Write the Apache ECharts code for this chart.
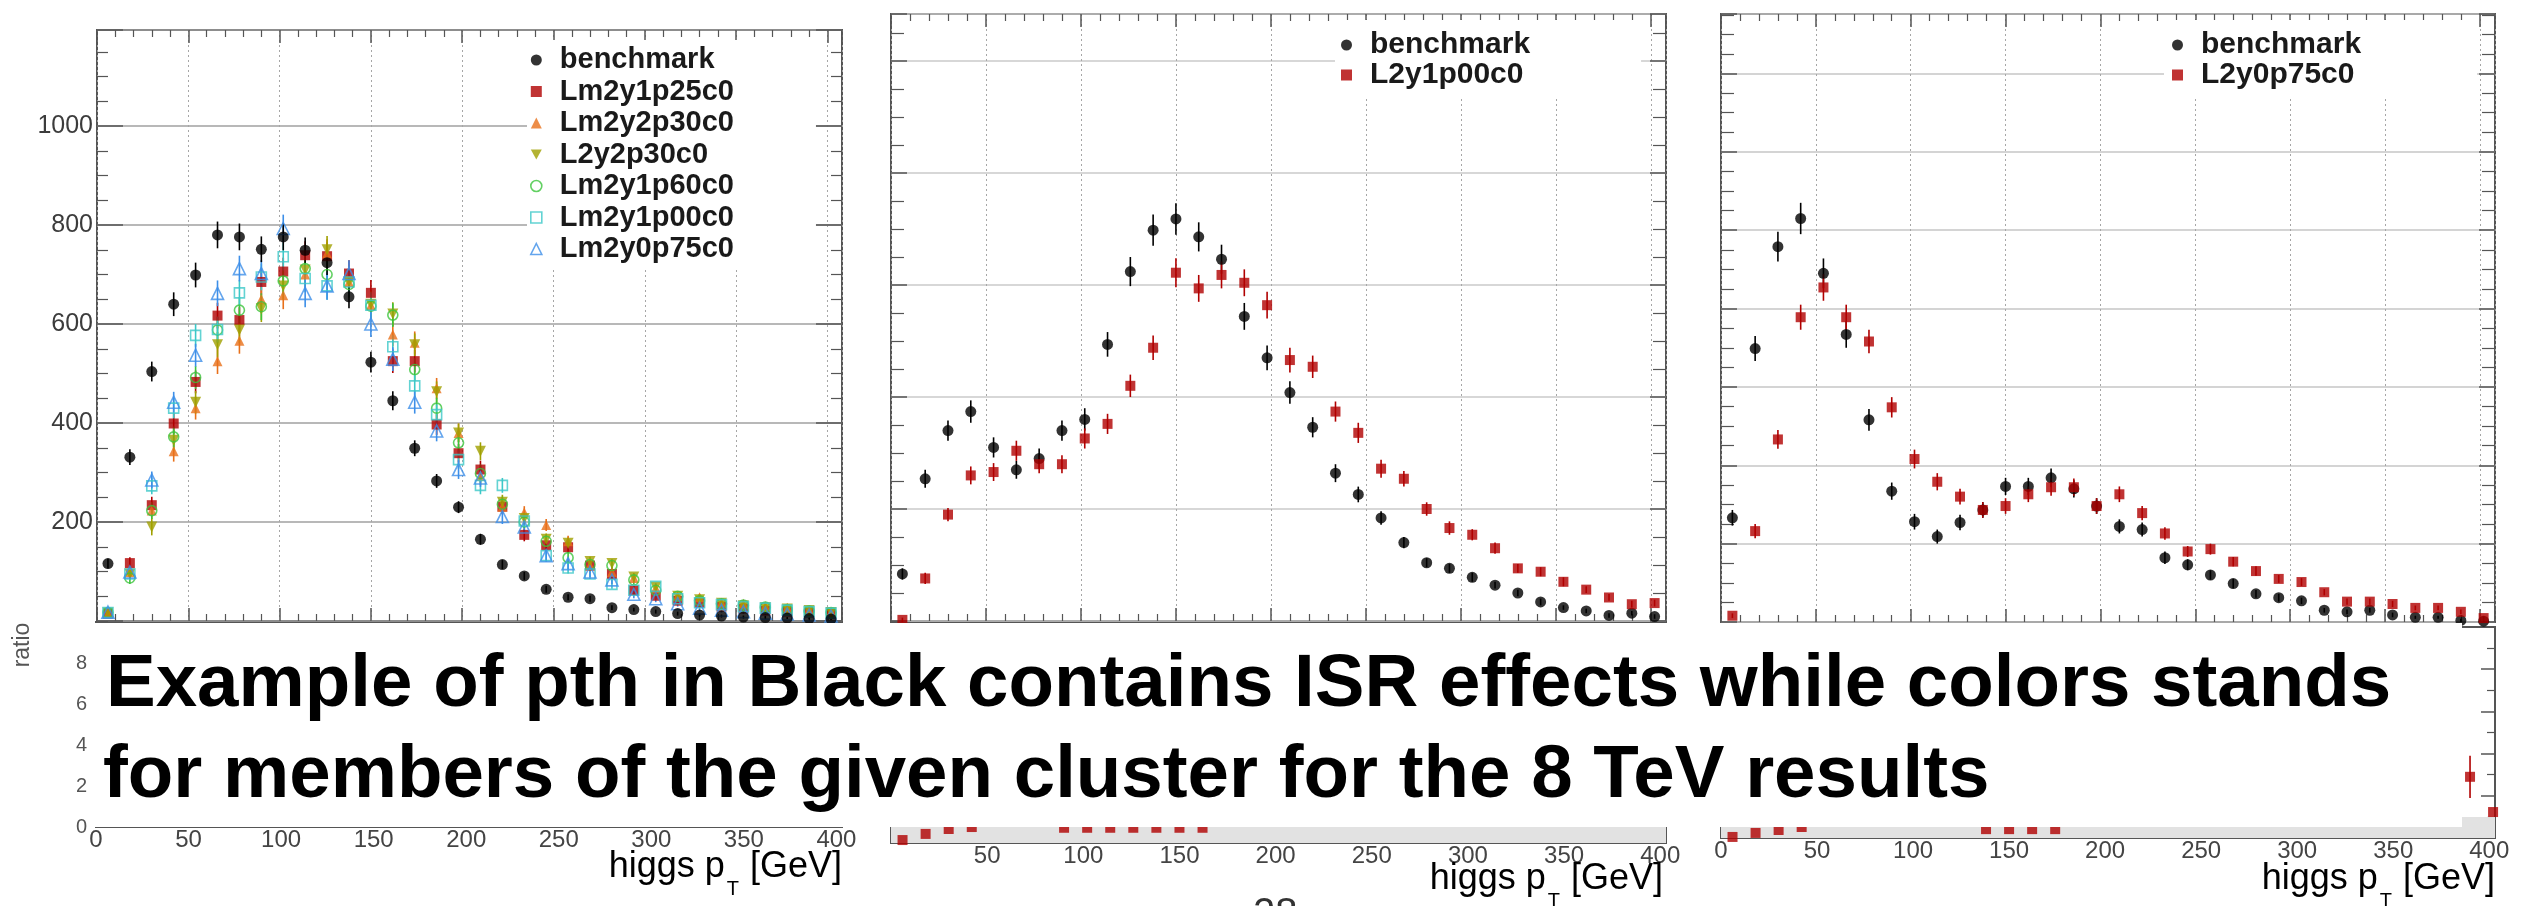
<!DOCTYPE html>
<html>
<head>
<meta charset="utf-8">
<script src="https://cdn.jsdelivr.net/npm/echarts@6/dist/echarts.min.js"></script>
<style>
html, body { margin: 0; padding: 0; background: #fff; }
#chart { width: 2531px; height: 906px; }
</style>
</head>
<body>
<div id="chart"></div>
<script>
// Higgs pT bin centres [GeV]: 34 bins of 12 GeV from 0 to 408
const ptBins = [6, 18, 30, 42, 54, 66, 78, 90, 102, 114, 126, 138, 150, 162, 174, 186, 198,
  210, 222, 234, 246, 258, 270, 282, 294, 306, 318, 330, 342, 354, 366, 378, 390, 402];

// tick labels that are printed
const yLabels1 = [200, 400, 600, 800, 1000];
const ratioLabels1 = [0, 2, 4, 6, 8];
const ptLabels = [0, 50, 100, 150, 200, 250, 300, 350, 400];

// ---- left pad: benchmark vs. members of the cluster ----
const bench1 = [116, 331, 504, 640, 699, 780, 776, 751, 776, 749, 724, 655, 523, 445, 349, 283, 230,
  165, 114, 91, 64, 48, 45, 27, 23, 19, 15, 12, 10, 8, 7, 6, 5, 4];
const bench1Err = [10, 16, 20, 24, 25, 27, 27, 26, 27, 26, 25, 23, 21, 19, 16, 14, 12,
  11, 9, 8, 7, 6, 6, 5, 4, 4, 4, 3, 3, 3, 3, 2, 2, 2];
const lm2y1p25c0 = [15, 117, 234, 399, 483, 617, 608, 685, 706, 739, 737, 702, 663, 525, 525, 397, 339,
  306, 231, 174, 153, 149, 112, 95, 62, 51, 41, 37, 29, 25, 21, 19, 17, 14];
const lm2y2p30c0 = [15, 99, 223, 343, 430, 525, 566, 650, 658, 700, 743, 685, 638, 579, 562, 470, 380,
  293, 231, 219, 194, 161, 112, 99, 87, 66, 50, 48, 37, 35, 30, 27, 22, 18];
const l2y2p30c0 = [16, 95, 190, 365, 442, 558, 588, 631, 677, 709, 750, 685, 640, 620, 558, 463, 380,
  343, 240, 207, 165, 157, 120, 116, 89, 68, 50, 43, 36, 31, 27, 24, 21, 17];
const lm2y1p60c0 = [17, 87, 223, 372, 492, 588, 628, 635, 687, 712, 700, 680, 636, 618, 508, 430, 360,
  298, 236, 200, 161, 128, 114, 112, 83, 62, 50, 41, 35, 32, 28, 23, 20, 17];
const lm2y1p00c0 = [17, 95, 273, 430, 577, 589, 663, 695, 736, 692, 677, 685, 638, 554, 475, 417, 326,
  274, 274, 202, 132, 107, 95, 74, 62, 70, 45, 37, 33, 29, 26, 22, 19, 16];
const lm2y0p75c0 = [18, 99, 285, 442, 537, 662, 712, 702, 793, 662, 677, 702, 600, 529, 442, 384, 306,
  289, 211, 190, 132, 116, 99, 83, 54, 45, 35, 26, 22, 19, 16, 14, 12, 10];
const clusterErr = [5, 12, 17, 21, 23, 26, 26, 27, 28, 28, 28, 27, 26, 24, 23, 21, 19,
  18, 15, 13, 12, 11, 10, 9, 8, 7, 6, 6, 5, 5, 5, 4, 4, 4];

// ---- middle pad: benchmark vs. L2y1p00c0 ----
const bench2 = [42, 127, 170, 187, 155, 135, 145, 170, 180, 247, 312, 349, 359, 343, 323, 272, 235,
  204, 173, 132, 113, 92, 70, 52, 47, 39, 32, 25, 17, 12, 9, 5, 7, 4];
const bench2Err = [5, 8, 9, 10, 9, 8, 9, 9, 10, 11, 13, 14, 14, 13, 13, 12, 11,
  10, 9, 8, 7, 6, 5, 4, 4, 4, 3, 3, 3, 2, 2, 2, 2, 2];
const l2y1p00c0 = [1, 38, 95, 130, 133, 152, 140, 140, 163, 176, 210, 244, 311, 297, 309, 302, 282,
  233, 227, 187, 168, 136, 127, 100, 83, 77, 65, 47, 44, 35, 28, 21, 15, 16];
const l2y1p00c0Err = [2, 5, 6, 8, 8, 9, 8, 8, 9, 9, 10, 11, 13, 12, 12, 12, 12,
  11, 10, 9, 9, 8, 7, 6, 6, 5, 5, 4, 4, 4, 3, 3, 3, 3];
const ratio2 = [0.12, 0.37, 0.57, 0.65, null, null, null, 0.62, 0.62, 0.62, 0.62, 0.62, 0.62, 0.62, null, null, null,
  null, null, null, null, null, null, null, null, null, null, null, null, null, null, null, null, null];

// ---- right pad: benchmark vs. L2y0p75c0 ----
const bench3 = [133, 349, 479, 515, 445, 367, 258, 167, 128, 109, 127, 143, 173, 173, 184, 170, 148,
  122, 118, 82, 73, 60, 49, 36, 31, 27, 15, 13, 15, 9, 6, 6, 2, 1];
const bench3Err = [10, 16, 19, 20, 19, 17, 14, 11, 10, 9, 10, 10, 11, 11, 12, 11, 10,
  9, 9, 8, 7, 6, 6, 5, 5, 4, 3, 3, 3, 3, 2, 2, 2, 1];
const l2y0p75c0 = [8, 116, 233, 389, 427, 389, 358, 274, 208, 179, 160, 143, 148, 163, 172, 172, 148,
  163, 139, 113, 90, 93, 77, 65, 55, 51, 38, 26, 26, 23, 18, 18, 13, 5];
const l2y0p75c0Err = [3, 9, 12, 16, 17, 16, 15, 13, 12, 11, 10, 10, 10, 10, 11, 11, 10,
  10, 9, 8, 7, 7, 6, 6, 5, 5, 4, 4, 4, 4, 3, 3, 3, 2];
const ratio3 = [0.05, 0.24, 0.38, 0.52, null, null, null, null, null, null, null, 0.42, 0.42, 0.42, 0.42, null, null,
  null, null, null, null, null, null, null, null, null, null, null, null, null, null, null, 2.9, 1.23];
const ratio3Err = [0, 0, 0, 0, null, null, null, null, null, null, null, 0, 0, 0, 0, null, null,
  null, null, null, null, null, null, null, null, null, null, null, null, null, null, null, 1.0, 0];

const FONT = '"Liberation Sans", Arial, Helvetica, sans-serif';
const FRAME = '#555';
const TICK = { color: FRAME, width: 1.5 };

function points(values) {
  return ptBins.map((x, i) => [x, values[i]]).filter(d => d[1] != null);
}

function errorBars(values, errs, color, xi, yi) {
  return {
    type: 'custom', xAxisIndex: xi, yAxisIndex: yi, silent: true,
    data: ptBins.map((x, i) => [x, values[i], errs[i]]).filter(d => d[1] != null && d[2]),
    encode: { x: 0, y: 1 },
    renderItem: function (params, api) {
      const x = api.value(0), y = api.value(1), e = api.value(2);
      const lo = api.coord([x, y - e]);
      const hi = api.coord([x, y + e]);
      return { type: 'line', shape: { x1: lo[0], y1: lo[1], x2: hi[0], y2: hi[1] },
        style: { stroke: color, lineWidth: 1.6 } };
    }
  };
}

function markerStyle(s) {
  return s.open
    ? { color: 'rgba(255,255,255,0)', borderColor: s.color, borderWidth: 1.6 }
    : { color: s.color };
}

function scatter(name, values, s, xi, yi) {
  return {
    type: 'scatter', name: name, xAxisIndex: xi, yAxisIndex: yi, clip: false,
    symbol: s.symbol, symbolSize: s.size, itemStyle: markerStyle(s),
    emphasis: { disabled: true }, data: points(values)
  };
}

const DOWN_TRIANGLE = 'path://M0,0L10,0L5,9Z';
const benchStyle = { symbol: 'circle', size: 11, color: '#000' };
const redStyle = { symbol: 'rect', size: 10, color: '#b00000' };
const cluster = [
  { name: 'Lm2y1p25c0', values: lm2y1p25c0, symbol: 'rect', size: 10, color: '#b00000' },
  { name: 'Lm2y2p30c0', values: lm2y2p30c0, symbol: 'triangle', size: 10, color: '#e8701a' },
  { name: 'L2y2p30c0', values: l2y2p30c0, symbol: DOWN_TRIANGLE, size: 11, color: '#a0a000' },
  { name: 'Lm2y1p60c0', values: lm2y1p60c0, symbol: 'circle', size: 10, color: '#3cc43c', open: true },
  { name: 'Lm2y1p00c0', values: lm2y1p00c0, symbol: 'rect', size: 10, color: '#3cc8c8', open: true },
  { name: 'Lm2y0p75c0', values: lm2y0p75c0, symbol: 'triangle', size: 12, color: '#3d8fe8', open: true }
];

// axes ---------------------------------------------------------------
function ptAxis(gi, max, pos, extra) {
  return Object.assign({
    type: 'value', gridIndex: gi, min: 0, max: max, interval: 50, position: pos,
    axisLine: { show: false, onZero: false },
    axisTick: { show: true, inside: true, length: 13, lineStyle: TICK },
    minorTick: { show: true, splitNumber: 5, length: 7, lineStyle: { color: FRAME, width: 1.2 } },
    axisLabel: { show: false },
    splitLine: { show: false }
  }, extra || {});
}
const dotted = { show: true, lineStyle: { color: '#a6a6a6', width: 1, type: [2, 3] } };

function ratioPtAxis(gi, labels) {
  return ptAxis(gi, 403, 'bottom', {
    axisTick: { show: true, inside: true, length: 10, lineStyle: TICK },
    minorTick: { show: true, splitNumber: 5, length: 5, lineStyle: { color: FRAME, width: 1.2 } },
    axisLabel: { show: true, margin: 1, fontSize: 24, color: '#444', fontFamily: FONT,
      formatter: v => labels.includes(v) ? String(v) : '' }
  });
}

function countAxis(gi, max, pos, o) {
  return {
    type: 'value', gridIndex: gi, min: 0, max: max, interval: o.interval, position: pos,
    axisLine: { show: false, onZero: false },
    axisTick: { show: true, inside: true, length: o.major, lineStyle: TICK },
    minorTick: { show: true, splitNumber: o.split, length: o.minor, lineStyle: { color: FRAME, width: 1.2 } },
    axisLabel: o.label || { show: false },
    splitLine: o.grid || { show: false }
  };
}

const xAxes = [
  ptAxis(0, 408, 'bottom', { splitLine: dotted }),
  ptAxis(0, 408, 'top'),
  ptAxis(1, 408, 'bottom', { splitLine: dotted }),
  ptAxis(1, 408, 'top'),
  ptAxis(2, 408, 'bottom', { splitLine: dotted }),
  ptAxis(2, 408, 'top'),
  ratioPtAxis(3, ptLabels),
  ratioPtAxis(4, ptLabels.slice(1)),
  ratioPtAxis(5, ptLabels)
];

const yAxes = [
  countAxis(0, 1194, 'left', { interval: 200, split: 4, major: 26, minor: 11,
    label: { show: true, margin: 4, fontSize: 25, color: '#3c3c3c', fontFamily: FONT,
      formatter: v => yLabels1.includes(v) ? String(v) : '' },
    grid: { show: true, lineStyle: { color: '#a0a0a0', width: 1.5 } } }),
  countAxis(0, 1194, 'right', { interval: 200, split: 4, major: 26, minor: 11 }),
  countAxis(1, 542, 'left', { interval: 100, split: 4, major: 16, minor: 13,
    grid: { show: true, lineStyle: { color: '#cacaca', width: 1.5 } } }),
  countAxis(1, 542, 'right', { interval: 100, split: 4, major: 16, minor: 13 }),
  countAxis(2, 776, 'left', { interval: 100, split: 4, major: 16, minor: 13,
    grid: { show: true, lineStyle: { color: '#c6c6c6', width: 1.5 } } }),
  countAxis(2, 776, 'right', { interval: 100, split: 4, major: 16, minor: 13 }),
  countAxis(3, 10, 'left', { interval: 2, split: 2, major: 12, minor: 6,
    label: { show: true, margin: 9, fontSize: 20, color: '#555', fontFamily: FONT,
      formatter: v => ratioLabels1.includes(v) ? String(v) : '' } }),
  countAxis(4, 9, 'left', { interval: 1, split: 2, major: 12, minor: 6 }),
  countAxis(5, 10, 'left', { interval: 2, split: 2, major: 14, minor: 8 }),
  countAxis(5, 10, 'right', { interval: 2, split: 2, major: 14, minor: 8 })
];

// series -------------------------------------------------------------
const series = [];
cluster.forEach(c => {
  series.push(errorBars(c.values, clusterErr, c.color, 0, 0));
  series.push(scatter(c.name, c.values, c, 0, 0));
});
series.push(errorBars(bench1, bench1Err, '#000', 0, 0));
series.push(scatter('benchmark', bench1, benchStyle, 0, 0));

series.push(errorBars(bench2, bench2Err, '#000', 2, 2));
series.push(scatter('benchmark', bench2, benchStyle, 2, 2));
series.push(errorBars(l2y1p00c0, l2y1p00c0Err, '#b00000', 2, 2));
series.push(scatter('L2y1p00c0', l2y1p00c0, redStyle, 2, 2));

series.push(errorBars(bench3, bench3Err, '#000', 4, 4));
series.push(scatter('benchmark', bench3, benchStyle, 4, 4));
series.push(errorBars(l2y0p75c0, l2y0p75c0Err, '#b00000', 4, 4));
series.push(scatter('L2y0p75c0', l2y0p75c0, redStyle, 4, 4));

const band = { silent: true, itemStyle: { color: '#e2e2e2' }, data: [[{ yAxis: 0 }, { yAxis: 1 }]] };
series.push(Object.assign(scatter('ratio L2y1p00c0', ratio2, redStyle, 7, 7), { markArea: band }));
series.push(errorBars(ratio3, ratio3Err, '#b00000', 8, 8));
series.push(Object.assign(scatter('ratio L2y0p75c0', ratio3, redStyle, 8, 8), { markArea: band }));

// legends ------------------------------------------------------------
function legendItem(name, s) {
  return { name: name, icon: s.symbol, itemStyle: markerStyle(s) };
}
function legendBox(left, top, padding, size, gap, items) {
  return {
    orient: 'vertical', left: left, top: top, padding: padding, backgroundColor: '#fff',
    itemWidth: 11, itemHeight: 11, itemGap: gap, selectedMode: false,
    textStyle: { fontSize: size, fontWeight: 'bold', color: '#1a1a1a', fontFamily: FONT,
      lineHeight: 30, padding: [0, 0, 0, 13] },
    data: items
  };
}
const benchIcon = { symbol: 'circle', size: 9, color: '#000' };
const legends = [
  legendBox(527, 40, [5, 82, 4, 3], 29, 1.5,
    [legendItem('benchmark', benchIcon)].concat(cluster.map(c => legendItem(c.name, c)))),
  legendBox(1335, 20, [10, 111, 6, 6], 30, 0,
    [legendItem('benchmark', benchIcon), legendItem('L2y1p00c0', redStyle)]),
  legendBox(2164, 20, [10, 116, 8, 8], 30, 0,
    [legendItem('benchmark', benchIcon), legendItem('L2y0p75c0', redStyle)])
];

// axis titles below the ratio pads
const titleRich = {
  m: { fontSize: 36, color: '#333', fontFamily: FONT, lineHeight: 40, verticalAlign: 'top' },
  s: { fontSize: 20, color: '#333', fontFamily: FONT, lineHeight: 20, verticalAlign: 'top', padding: [30, 1, 0, 2] }
};
function ptTitle(right, top) {
  return { type: 'text', z: 60, x: right, y: top,
    style: { text: '{m|higgs p}{s|T}{m| [GeV]}', rich: titleRich, align: 'right', verticalAlign: 'top' } };
}

const frame = { show: true, borderColor: FRAME, borderWidth: 2, backgroundColor: 'rgba(0,0,0,0)', outerBoundsMode: 'none' };
const option = {
  animation: false,
  backgroundColor: '#fff',
  textStyle: { fontFamily: FONT },
  grid: [
    Object.assign({ left: 97, top: 30, width: 745, height: 591 }, frame),
    Object.assign({ left: 891, top: 14, width: 775, height: 607 }, frame),
    Object.assign({ left: 1721, top: 14, width: 774, height: 608 }, frame),
    Object.assign({ left: 96, top: 622, width: 746, height: 205 }, frame),
    Object.assign({ left: 891, top: 622, width: 775, height: 221 }, frame),
    Object.assign({ left: 1721, top: 627, width: 774, height: 211 }, frame)
  ],
  xAxis: xAxes,
  yAxis: yAxes,
  legend: legends,
  series: series,
  graphic: [
    ptTitle(842, 849),
    ptTitle(1663, 861),
    ptTitle(2495, 861),
    { type: 'text', x: 23, y: 645, rotation: Math.PI / 2, z: 50,
      style: { text: 'ratio', font: '23px ' + FONT, fill: '#555', align: 'center', verticalAlign: 'middle' } },
    { type: 'rect', z: 100, shape: { x: 92, y: 623, width: 2370, height: 204 }, style: { fill: '#fff' } },
    { type: 'text', z: 101, x: 106, y: 685,
      style: { text: 'Example of pth in Black contains ISR effects while colors stands',
        font: 'bold 74.5px ' + FONT, fill: '#000', align: 'left', verticalAlign: 'middle' } },
    { type: 'text', z: 101, x: 103, y: 776,
      style: { text: 'for members of the given cluster for the 8 TeV results',
        font: 'bold 74.5px ' + FONT, fill: '#000', align: 'left', verticalAlign: 'middle' } },
    { type: 'text', z: 101, x: 1253, y: 915,
      style: { text: '28', font: '40px ' + FONT, fill: '#333', align: 'left', verticalAlign: 'middle' } }
  ]
};

const chart = echarts.init(document.getElementById('chart'), null, { renderer: 'canvas' });
chart.setOption(option);
</script>
</body>
</html>
